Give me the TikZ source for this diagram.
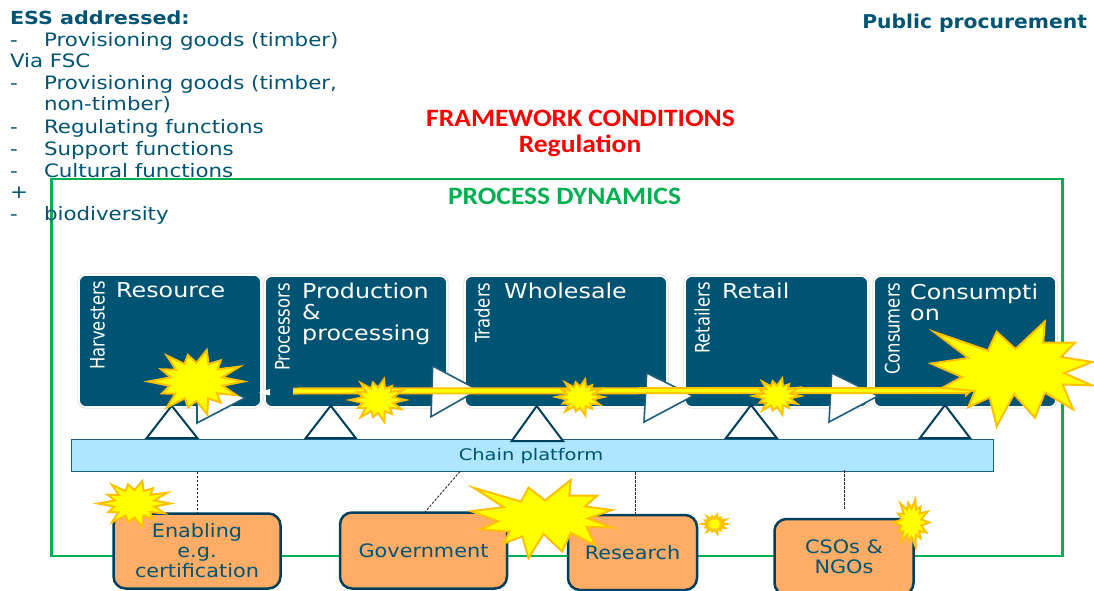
\documentclass[tikz,border=0pt]{standalone}
\usepackage{fontspec}
\setmainfont{DejaVu Sans}
\newfontfamily\headfont{Carlito}
\usetikzlibrary{arrows.meta,calc}
\definecolor{teal}{HTML}{005473}
\definecolor{tri}{HTML}{003F5C}
\definecolor{arrowline}{HTML}{1B5E7E}
\definecolor{sky}{HTML}{AEE6FF}
\definecolor{orangebox}{HTML}{FFAD66}
\definecolor{framegreen}{HTML}{00B050}
\definecolor{burstline}{HTML}{FFC000}
\definecolor{burstfill}{HTML}{FFFF00}
\definecolor{headred}{HTML}{FF0000}
\tikzset{
  txt/.style={text=teal,inner sep=0pt,outer sep=0pt,anchor=base west,font=\fontsize{18.5}{20}\selectfont,xscale=1.155},
  chainbox/.style={fill=teal,rounded corners=7pt,preaction={draw=gray!25,line width=3.2pt},draw=white,line width=1.6pt,inner sep=0pt,outer sep=0pt,anchor=north west},
  boxhead/.style={text=white,inner sep=0pt,anchor=base west,font=\fontsize{20.5}{21}\selectfont,xscale=1.16},
  actor/.style={text=white,inner sep=0pt,anchor=south west,rotate=90,xscale=.82,font=\fontsize{20}{22}\selectfont},
  support/.style={fill=orangebox,draw=tri,line width=2.5pt,rounded corners=12pt,inner sep=0pt,outer sep=0pt,anchor=north west},
  suptext/.style={text=teal,inner sep=0pt,align=center,font=\fontsize{18.5}{20}\selectfont,xscale=1.125},
  heading/.style={inner sep=0pt,anchor=base,font=\headfont\bfseries\fontsize{25}{27}\selectfont,xscale=1.1},
  uptri/.style={fill=white,draw=tri,line width=2pt,line join=miter},
  flowtri/.style={fill=white,draw=arrowline,line width=1.6pt,line join=miter},
  burst/.style={fill=burstfill,draw=burstline,line width=2pt,line join=miter},
  dashlink/.style={draw=black!85,dash pattern=on 2.5pt off 1.5pt,line width=.9pt}
}
\newcommand{\burstA}[4]{%
  \draw[burst,shift={(#1,#2)},xscale=#3,yscale=#4]
  (.02,.10)--(.354,.277)--(.408,.098)--(.525,.262)--(.707,0)--(.697,.2)--(.895,.2)--(.808,.338)--(1,.385)--(.828,.492)--(1,.609)--(.818,.6)--(.883,.837)--(.707,.677)--(.646,.917)--(.515,.692)--(.408,1)--(.364,.723)--(.232,.815)--(.273,.662)--(.07,.631)--(.192,.529)--(0,.4)--(.232,.348)--cycle;}
\newcommand{\burstB}[4]{%
  \draw[burst,shift={(#1,#2)},xscale=#3,yscale=#4]
  (0:.98) \foreach \a/\r in {13/.56,26/.92,39/.55,51/.8,64/.55,77/1,90/.57,103/.78,116/.55,129/.98,141/.57,154/.8,167/.57,180/1,193/.55,206/.82,219/.55,231/.98,244/.57,257/.8,270/.55,283/.95,296/.57,309/.8,321/.57,334/1,347/.55}{ -- (\a:\r) } -- cycle;}
\begin{document}
\begin{tikzpicture}[x=1pt,y=-1pt]
\useasboundingbox (0,0) rectangle (1094,591);
% frame
\draw[framegreen,line width=2.4pt] (51.5,179) rectangle (1062.5,556);
% left list
\node[txt,font=\bfseries\fontsize{18}{20}\selectfont,xscale=.995] (ess) at (10,25) {ESS addressed:};
\node[txt] (d1) at (10,47) {-};
\node[txt] (l1) at (44,47) {Provisioning goods (timber)};
\node[txt] (l2) at (10,68) {Via FSC};
\node[txt] (d3) at (10,90) {-};
\node[txt] (l3) at (44,90) {Provisioning goods (timber,};
\node[txt] (l3b) at (44,111) {non-timber)};
\node[txt] (d4) at (10,133) {-};
\node[txt] (l4) at (44,133) {Regulating functions};
\node[txt] (d5) at (10,155) {-};
\node[txt] (l5) at (44,155) {Support functions};
\node[txt] (d6) at (10,177) {-};
\node[txt] (l6) at (44,177) {Cultural functions};
\node[txt] (pl) at (10,198) {+};
\node[txt] (d7) at (10,220) {-};
\node[txt] (l7) at (44,220) {biodiversity};
% headings
\node[txt,anchor=base east,font=\bfseries\fontsize{19}{21}\selectfont,xscale=.925] (pp) at (1087,28.5) {Public procurement};
\node[heading,text=headred] (fc) at (580.5,126.5) {FRAMEWORK CONDITIONS};
\node[heading,text=headred] (reg) at (580,152.5) {Regulation};
\node[heading,text=framegreen] (pd) at (564.5,204.5) {PROCESS DYNAMICS};
% chain boxes
\node[chainbox,minimum width=182pt,minimum height=132pt] (b1) at (79,275) {};
\node[chainbox,minimum width=182pt,minimum height=131pt] (b2) at (265,276) {};
\node[chainbox,minimum width=202pt,minimum height=131pt] (b3) at (465,276) {};
\node[chainbox,minimum width=183pt,minimum height=131pt] (b4) at (685,276) {};
\node[chainbox,minimum width=182pt,minimum height=131pt] (b5) at (874,276) {};
\node[boxhead] (h1) at (116,297) {Resource};
\node[boxhead,align=left,anchor=north west] (h2) at (302,283) {\fontsize{20.5}{21}\selectfont Production\\\&\\processing};
\node[boxhead] (h3) at (504,298) {Wholesale};
\node[boxhead] (h4) at (722,298) {Retail};
\node[boxhead,align=left,anchor=north west] (h5) at (910,284) {\fontsize{20.5}{21}\selectfont Consumpti\\on};
\node[actor] (a1) at (105,370) {Harvesters};
\node[actor] (a2) at (290,371) {Processors};
\node[actor] (a3) at (490,343) {Traders};
\node[actor] (a4) at (710,354) {Retailers};
\node[actor] (a5) at (900,375) {Consumers};
% platform
\node[fill=sky,draw=arrowline,line width=1pt,minimum width=922pt,minimum height=32pt,inner sep=0pt,outer sep=0pt,anchor=north west] (plat) at (71,439) {};
\node[suptext,font=\fontsize{16}{18}\selectfont,xscale=1.08] (plattext) at (531,456.5) {Chain platform};
% triangles on platform
\draw[uptri] (146.7,438)--(171.7,405.7)--(197.3,438)--cycle;
\draw[uptri] (305.7,438)--(330.7,405.7)--(355.7,438)--cycle;
\draw[uptri] (511.7,441)--(536.7,406)--(563,441)--cycle;
\draw[uptri] (726,438)--(751,405)--(776.7,438)--cycle;
\draw[uptri] (920,438)--(945,405)--(970,438)--cycle;
% flow triangles
\draw[flowtri] (197,375)--(245,398)--(197,423)--cycle;
\fill[white] (259,392.5)--(270,389)--(270,395.5)--cycle;
\draw[flowtri] (432.7,366)--(478,390)--(431,416.7)--cycle;
\draw[flowtri] (646.7,373)--(693,396)--(644,422)--cycle;
\draw[flowtri] (831.7,373)--(878,396)--(829,422)--cycle;
% yellow flow arrow
\coordinate (ys) at (293,391);
\coordinate (ye) at (973,390.5);
\draw[burstline,line width=7pt,-{Triangle[length=8pt,width=13pt]}] (ys)--(ye);
\draw[burstfill,line width=3.4pt,shorten >=4pt] (ys)--(ye);
% support boxes
\node[support,minimum width=167pt,minimum height=75pt] (s1) at (113.5,513.5) {};
\node[support,minimum width=167pt,minimum height=76pt] (s2) at (340,512.5) {};
\node[support,minimum width=129pt,minimum height=75pt] (s3) at (568,515) {};
\node[support,minimum width=139pt,minimum height=76pt] (s4) at (774.5,519) {};
\node[suptext] (t1) at (197,551) {Enabling\\e.g.\\certification};
\node[suptext] (t2) at (423.5,551) {Government};
\node[suptext] (t3) at (632.5,553) {Research};
\node[suptext] (t4) at (844,557) {CSOs \&\\NGOs};
% dashed links
\coordinate (p1) at (197,471.5);
\draw[dashlink] (p1)--(p1|-s1.north);
\coordinate (p2) at (460,471.5);
\coordinate (q2) at (425,512);
\draw[dashlink] (p2)--(q2);
\coordinate (p3) at (635,472);
\draw[dashlink] (p3)--(p3|-s3.north);
\coordinate (p4) at (844,470);
\coordinate (q4) at (844,510);
\draw[dashlink] (p4)--(q4);
% bursts
\burstB{196.5}{381.5}{48}{34}
\burstB{378}{400}{28}{22.5}
\burstB{580}{397}{24}{19}
\burstB{777}{396}{24}{19}
\burstA{931}{321.5}{161}{105}
\burstB{134.5}{503.5}{36.5}{24.5}
\burstA{471}{480}{141}{78}
\burstB{714.5}{524}{12.5}{10}
\burstB{911.5}{522.5}{18}{25}
\end{tikzpicture}
\end{document}
